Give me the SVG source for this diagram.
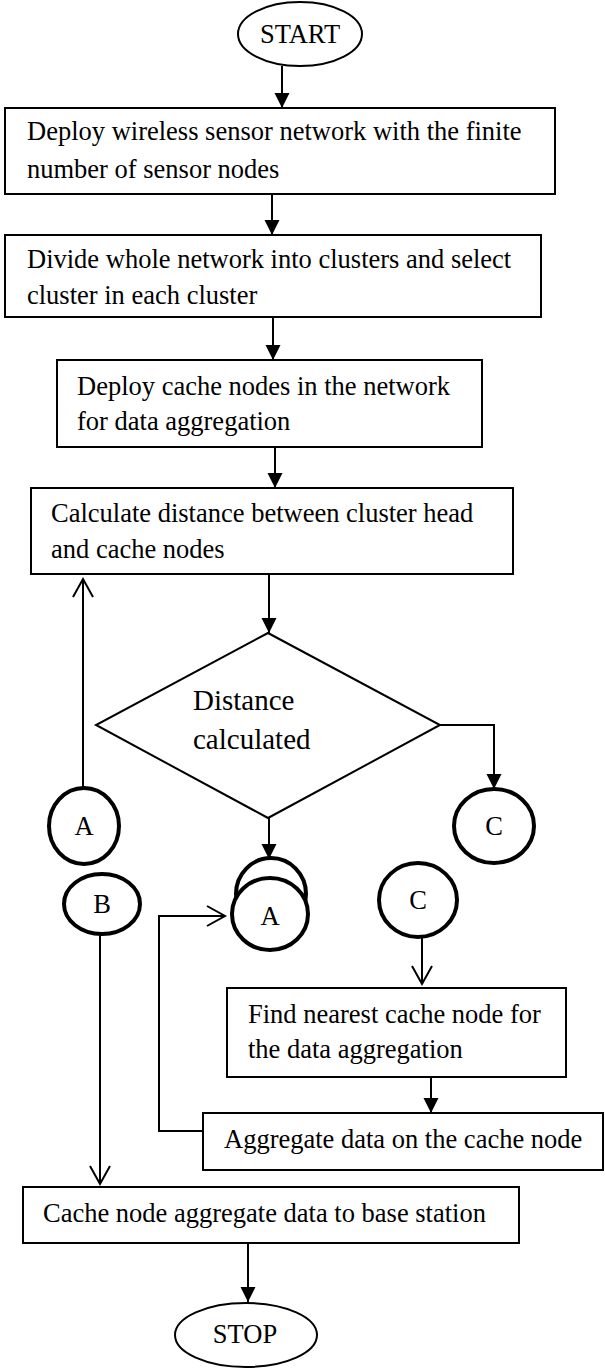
<svg xmlns="http://www.w3.org/2000/svg" width="605" height="1368" viewBox="0 0 605 1368">
<style>
text{font-family:"Liberation Serif","Times New Roman",serif;font-size:26.5px;fill:#000}
.c{text-anchor:middle}
.box{fill:#fff;stroke:#000;stroke-width:2}
.oval{fill:#fff;stroke:#000;stroke-width:2}
.circ{fill:#fff;stroke:#000;stroke-width:4}
.ln{fill:none;stroke:#000;stroke-width:2}
.big{font-size:29px}
</style>
<defs>
<marker id="fa" markerUnits="userSpaceOnUse" markerWidth="16" markerHeight="16" refX="15" refY="7.5" orient="auto"><path d="M0,0 L15,7.5 L0,15 z" fill="#000"/></marker>
<marker id="oa" markerUnits="userSpaceOnUse" markerWidth="22" markerHeight="24" refX="19" refY="11" orient="auto"><path d="M1,1 L19,11 L1,21" fill="none" stroke="#000" stroke-width="2"/></marker>
</defs>
<g id="connectors">
<line class="ln" x1="282" y1="66" x2="282" y2="108" marker-end="url(#fa)"/>
<line class="ln" x1="272" y1="194" x2="272" y2="235" marker-end="url(#fa)"/>
<line class="ln" x1="273" y1="317" x2="273" y2="360" marker-end="url(#fa)"/>
<line class="ln" x1="275" y1="447" x2="275" y2="488" marker-end="url(#fa)"/>
<line class="ln" x1="269" y1="574" x2="269" y2="633" marker-end="url(#fa)"/>
<path class="ln" d="M440,725 H494 V789" marker-end="url(#fa)"/>
<line class="ln" x1="83" y1="788" x2="83" y2="579" marker-end="url(#oa)"/>
<line class="ln" x1="269" y1="818" x2="269" y2="859" marker-end="url(#fa)"/>
<path class="ln" d="M203,1131 H159 V916 H225" marker-end="url(#oa)"/>
<line class="ln" x1="100" y1="934" x2="100" y2="1184" marker-end="url(#oa)"/>
<line class="ln" x1="422" y1="937" x2="422" y2="984" marker-end="url(#oa)"/>
<line class="ln" x1="431" y1="1077" x2="431" y2="1113" marker-end="url(#fa)"/>
<line class="ln" x1="248" y1="1243" x2="248" y2="1302" marker-end="url(#fa)"/>
</g>
<g id="start">
<ellipse class="oval" cx="300" cy="34" rx="62" ry="32"/>
<text class="c" x="300" y="43">START</text>
</g>
<g id="box1">
<rect class="box" x="5" y="108" width="550" height="86"/>
<text x="27" y="140">Deploy wireless sensor network with the finite</text>
<text x="27" y="178">number of sensor nodes</text>
</g>
<g id="box2">
<rect class="box" x="5" y="235" width="536" height="82"/>
<text x="27" y="268">Divide whole network into clusters and select</text>
<text x="27" y="304">cluster in each cluster</text>
</g>
<g id="box3">
<rect class="box" x="57" y="360" width="425" height="87"/>
<text x="77" y="395">Deploy cache nodes in the network</text>
<text x="77" y="430">for data aggregation</text>
</g>
<g id="box4">
<rect class="box" x="31" y="488" width="482" height="86"/>
<text x="51" y="522">Calculate distance between cluster head</text>
<text x="51" y="558">and cache nodes</text>
</g>
<g id="decision">
<polygon class="box" points="268,633 440,725 268,818 96,725"/>
<text class="big" x="193" y="710">Distance</text>
<text class="big" x="193" y="749">calculated</text>
</g>
<g id="connC1">
<ellipse class="circ" cx="494" cy="826" rx="40" ry="37"/>
<text class="c" x="494" y="835">C</text>
</g>
<g id="connA1">
<ellipse class="circ" cx="84" cy="826" rx="35" ry="38"/>
<text class="c" x="84" y="835">A</text>
</g>
<g id="connA2">
<ellipse class="circ" cx="271" cy="894" rx="35" ry="36"/>
<ellipse class="circ" cx="270" cy="914" rx="38" ry="36"/>
<text class="c" x="270" y="925">A</text>
</g>
<g id="connB">
<ellipse class="circ" cx="102" cy="904" rx="38" ry="30"/>
<text class="c" x="102" y="913">B</text>
</g>
<g id="connC2">
<ellipse class="circ" cx="418" cy="900" rx="39" ry="37"/>
<text class="c" x="418" y="909">C</text>
</g>
<g id="box5">
<rect class="box" x="227" y="988" width="339" height="89"/>
<text x="248" y="1023">Find nearest cache node for</text>
<text x="248" y="1058">the data aggregation</text>
</g>
<g id="box6">
<rect class="box" x="203" y="1113" width="400" height="57"/>
<text x="224" y="1148">Aggregate data on the cache node</text>
</g>
<g id="box7">
<rect class="box" x="23" y="1187" width="496" height="56"/>
<text x="43" y="1222">Cache node aggregate data to base station</text>
</g>
<g id="stop">
<ellipse class="oval" cx="246" cy="1335" rx="71" ry="32"/>
<text class="c" x="245" y="1343">STOP</text>
</g>
</svg>
